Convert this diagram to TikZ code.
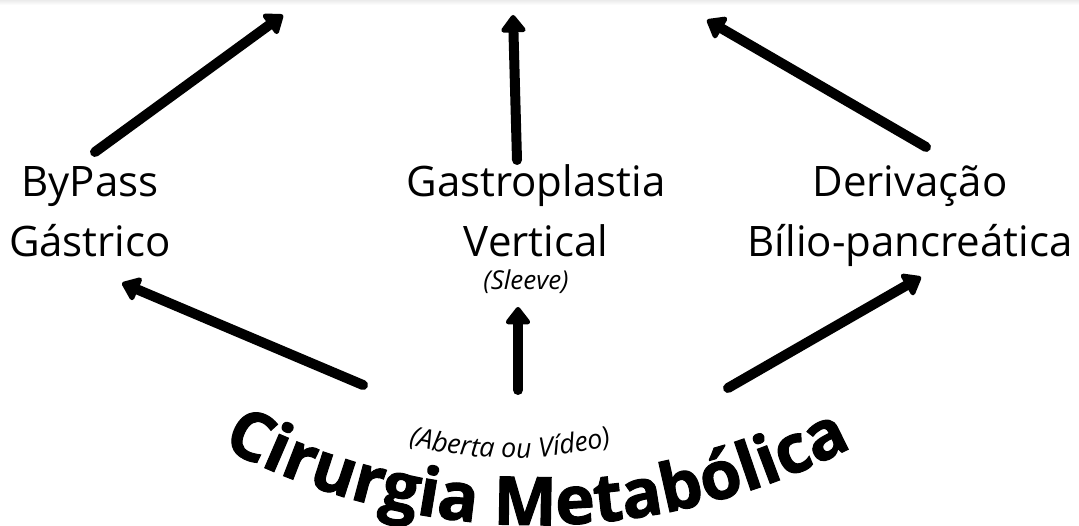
\documentclass[tikz,border=0pt]{standalone}
\usepackage{fontspec}
\setmainfont{Open Sans}[BoldFeatures={FakeBold=1.6}]
\usetikzlibrary{arrows.meta,positioning,decorations.text}
\tikzset{
  seta/.style={-{Triangle[length=19pt,width=28pt,round,line width=5pt]},line width=10pt,line cap=round,black},
  proc/.style={font=\fontsize{42}{60}\selectfont,align=center,inner sep=0pt,anchor=base},
  obs/.style={font=\fontsize{26}{30}\selectfont\itshape,inner sep=0pt,anchor=base},
}
\newcommand{\titfont}{\fontsize{67}{70}\selectfont\bfseries}
\newcommand{\subfont}{\fontsize{27}{30}\selectfont\itshape}

\begin{document}
\begin{tikzpicture}[x=1pt,y=1pt]
  \useasboundingbox (0,0) rectangle (1079,-526);
  \shade[top color=black!8,bottom color=white] (0,0) rectangle (1079,-5);

  % tecnicas (base = ultima linha)
  \node[proc] (bp) at (90,-257) {ByPass\\Gástrico};
  \node[proc] (gv) at (536,-257) {Gastroplastia\\Vertical};
  \node[obs] (sl) at (526,-290) {(Sleeve)};
  \node[proc] (db) at (910,-257) {Derivação\\Bílio-pancreática};

  % titulo curvo
  \path[decorate,decoration={text along path,text align=center,
      text={|\titfont|Cirurgia Metabólica}}]
    (537,151) ++(-120:676) arc[start angle=-120,end angle=-60,radius=676];
  \path[decorate,decoration={text along path,text align=center,
      text={|\subfont|(Aberta ou Vídeo)}}]
    (510,-58) ++(-115:400) arc[start angle=-115,end angle=-65,radius=400];

  % setas
  \coordinate (bpOut) at (95,-152);
  \coordinate (bpEnd) at (283,-15);
  \coordinate (gvOut) at (517,-160);
  \coordinate (gvEnd) at (513,-15);
  \coordinate (dbOut) at (926,-147);
  \coordinate (dbEnd) at (707,-20);
  \coordinate (cmL) at (363,-385);
  \coordinate (cmM) at (518,-390);
  \coordinate (cmR) at (728,-388);
  \coordinate (bpIn) at (122,-283);
  \coordinate (slIn) at (518,-307);
  \coordinate (dbIn) at (921,-277);

  \draw[seta] (bpOut) -- (bpEnd);
  \draw[seta] (gvOut) -- (gvEnd);
  \draw[seta] (dbOut) -- (dbEnd);
  \draw[seta] (cmL) -- (bpIn);
  \draw[seta] (cmM) -- (slIn);
  \draw[seta] (cmR) -- (dbIn);
\end{tikzpicture}
\end{document}
